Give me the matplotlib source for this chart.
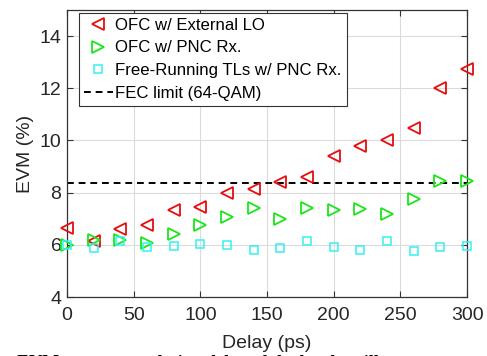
import numpy as np
import matplotlib
matplotlib.use("Agg")
from matplotlib import pyplot as plt

## data
delay = [0, 20, 40, 60, 80, 100, 120, 140, 160, 180, 200, 220, 240, 260, 280, 300]
evm_ext_lo = [6.63, 6.13, 6.6, 6.75, 7.33, 7.45, 7.98, 8.13, 8.42, 8.6, 9.42, 9.8, 10.03, 10.47, 12.02, 12.73]
evm_pnc = [6.0, 6.17, 6.17, 6.07, 6.4, 6.75, 7.05, 7.42, 6.98, 7.43, 7.32, 7.37, 7.2, 7.74, 8.43, 8.45]
evm_free = [6.0, 5.86, 6.15, 5.9, 5.96, 6.02, 5.98, 5.8, 5.87, 6.15, 5.9, 5.8, 6.15, 5.77, 5.9, 5.95]
fec_limit = 8.36

plt.rcParams["font.family"] = ["Liberation Sans", "DejaVu Sans"]

fig = plt.figure(figsize=(4.87, 3.56), dpi=100)
ax = fig.add_axes([0.1376, 0.1657, 0.8214, 0.8062])

# scatter series, hollow markers like matlab
ax.plot(delay, evm_ext_lo, linestyle="none", marker="<", markersize=8,
        markerfacecolor="none", markeredgecolor=(0.9, 0.05, 0.05), markeredgewidth=1.3,
        label="OFC w/ External LO", clip_on=False, zorder=3)
ax.plot(delay, evm_pnc, linestyle="none", marker=">", markersize=8,
        markerfacecolor="none", markeredgecolor=(0.1, 0.9, 0.1), markeredgewidth=1.3,
        label="OFC w/ PNC Rx.", clip_on=False, zorder=3)
ax.plot(delay, evm_free, linestyle="none", marker="s", markersize=6,
        markerfacecolor="none", markeredgecolor=(0.2, 0.95, 0.95), markeredgewidth=1.1,
        label="Free-Running TLs w/ PNC Rx.", clip_on=False, zorder=3)
ax.axhline(fec_limit, color="black", linestyle=(0, (3.5, 2.5)), linewidth=1.4,
           label="FEC limit (64-QAM)")

ax.set_xlim(0, 300)
ax.set_ylim(4, 15)
ax.set_xticks([0, 50, 100, 150, 200, 250, 300])
ax.set_yticks([4, 6, 8, 10, 12, 14])
ax.grid(True, color=(0.86, 0.86, 0.86), linewidth=0.8)
ax.set_axisbelow(True)

for s in ax.spines.values():
    s.set_color((0.2, 0.2, 0.2))
    s.set_linewidth(0.9)
ax.tick_params(direction="in", top=True, right=True, length=4, width=0.8,
               colors=(0.2, 0.2, 0.2), labelsize=14, labelcolor=(0.15, 0.15, 0.15))
ax.tick_params(axis="x", pad=7)
ax.tick_params(axis="y", pad=4)

ax.set_xlabel("Delay (ps)", fontsize=14, color=(0.15, 0.15, 0.15), labelpad=8)
ax.set_ylabel("EVM (%)", fontsize=14, color=(0.15, 0.15, 0.15), labelpad=4)

leg = ax.legend(loc="upper left", bbox_to_anchor=(0.03, 0.99), fontsize=12.1,
                frameon=True, fancybox=False, edgecolor=(0.2, 0.2, 0.2),
                framealpha=1, borderpad=0.3, labelspacing=0.45,
                handlelength=1.7, handletextpad=0.15, borderaxespad=0)
leg.get_frame().set_linewidth(0.8)

# caption fragment cut off at the bottom of the reference
fig.text(0.035, -0.045, "EVM versus correlation delay of the local oscillator",
         fontsize=13, fontweight="bold", family="Liberation Serif", ha="left", va="bottom")

fig.savefig("out.png", dpi=100)
